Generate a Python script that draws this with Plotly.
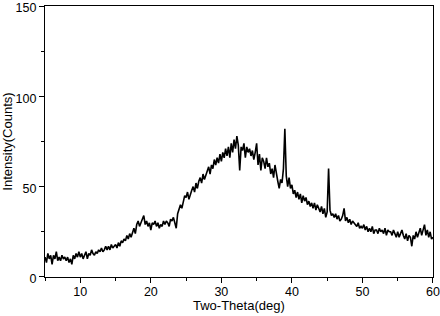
import numpy as np
import plotly.graph_objects as go

# 2-theta grid: 5.0 .. 60.0 in steps of 0.2 deg
theta_start = 5.0
theta_step = 0.2

# intensity values, five per degree
intensity = [
    11, 8, 13, 10, 12,      # 5
    7, 12, 10, 14, 9,       # 6
    11, 9, 12, 10, 11,      # 7
    9, 11, 8, 10, 7,        # 8
    12, 10, 13, 11, 14,     # 9
    11, 13, 10, 12, 14,     # 10
    10, 13, 12, 15, 13,     # 11
    12, 14, 13, 15, 14,     # 12
    16, 14, 15, 17, 15,     # 13
    17, 15, 18, 16, 17,     # 14
    18, 16, 19, 17, 20,     # 15
    19, 21, 20, 23, 21,     # 16
    24, 22, 25, 27, 24,     # 17
    29, 31, 28, 30, 32,     # 18
    34, 29, 31, 28, 30,     # 19
    26, 30, 29, 31, 28,     # 20
    30, 27, 29, 28, 31,     # 21
    29, 31, 30, 28, 32,     # 22
    31, 33, 30, 27, 35,     # 23
    37, 40, 38, 42, 45,     # 24
    44, 47, 43, 46, 48,     # 25
    50, 47, 52, 49, 53,     # 26
    55, 52, 57, 54, 56,     # 27
    58, 61, 57, 62, 60,     # 28
    65, 62, 66, 63, 68,     # 29
    64, 69, 66, 71, 67,     # 30
    72, 66, 74, 69, 76,     # 31
    71, 78, 73, 59, 72,     # 32
    70, 74, 66, 72, 69,     # 33
    71, 67, 70, 65, 69,     # 34
    74, 62, 68, 59, 66,     # 35
    64, 60, 66, 61, 63,     # 36
    57, 60, 55, 62, 56,     # 37
    53, 49, 54, 52, 60,     # 38
    82, 56, 50, 55, 49,     # 39
    51, 46, 48, 44, 47,     # 40
    43, 46, 41, 45, 42,     # 41
    44, 40, 42, 39, 41,     # 42
    38, 41, 37, 40, 38,     # 43
    36, 39, 35, 38, 33,     # 44
    36, 60, 37, 34, 35,     # 45
    33, 35, 32, 34, 31,     # 46
    32, 34, 38, 31, 33,     # 47
    30, 32, 29, 31, 30,     # 48
    29, 28, 30, 27, 28,     # 49
    27, 29, 26, 28, 25,     # 50
    27, 25, 28, 24, 26,     # 51
    26, 24, 27, 25, 26,     # 52
    24, 27, 23, 26, 25,     # 53
    25, 23, 26, 24, 22,     # 54
    25, 22, 24, 26, 23,     # 55
    21, 24, 20, 23, 22,     # 56
    17, 23, 21, 25, 22,     # 57
    24, 27, 23, 26, 29,     # 58
    23, 26, 22, 25, 21,     # 59
    22,                     # 60
]

two_theta = theta_start + theta_step * np.arange(len(intensity))

x_tick_vals = [10, 20, 30, 40, 50, 60]
y_tick_vals = [0, 50, 100, 150]
x_title = "Two-Theta(deg)"
y_title = "Intensity(Counts)"

fig = go.Figure(
    go.Scatter(
        x=two_theta, y=intensity, mode="lines",
        line=dict(color="black", width=1.6), showlegend=False,
    )
)

font = dict(family="Liberation Sans, Arial, sans-serif", size=13, color="black")
tick_font = dict(family="Liberation Sans, Arial, sans-serif", size=12.5, color="black")

fig.update_layout(
    width=440, height=316,
    margin=dict(l=45, r=7, t=6, b=39),
    paper_bgcolor="white", plot_bgcolor="white",
    font=font,
)
fig.update_xaxes(
    range=[4.995, 60.005], tickvals=x_tick_vals, automargin=False,
    ticklabeloverflow="allow", tickfont=tick_font, ticklabelstandoff=-2,
    showgrid=False, zeroline=False,
    showline=True, linecolor="black", linewidth=1.2, mirror=True,
    ticks="outside", ticklen=5, tickwidth=1, tickcolor="black",
    minor=dict(dtick=5, tick0=5, ticks="outside", ticklen=3, tickcolor="black"),
)
fig.update_yaxes(
    range=[-0.02, 150.02], tickvals=y_tick_vals, automargin=False,
    ticklabeloverflow="allow", tickfont=tick_font, ticklabelshift=2,
    showgrid=False, zeroline=False,
    showline=True, linecolor="black", linewidth=1.2, mirror=True,
    ticks="outside", ticklen=5, tickwidth=1, tickcolor="black",
    minor=dict(dtick=25, tick0=0, ticks="outside", ticklen=3, tickcolor="black"),
    title=dict(text=y_title, standoff=0, font=font),
)
fig.add_annotation(
    text=x_title, xref="paper", yref="paper", x=0.5, y=-0.107,
    xanchor="center", yanchor="middle", showarrow=False, font=font,
)

fig.write_html(
    "out.html",
    config={"displayModeBar": False},
    post_script="document.body.style.margin='0';document.body.style.padding='0';",
)
